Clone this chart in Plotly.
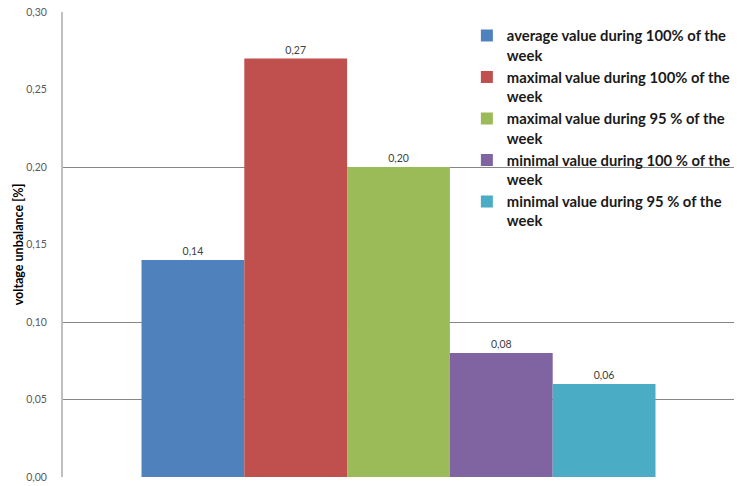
import plotly.graph_objects as go

# Voltage unbalance statistics over one week
series_names = [
    "average value during 100% of the<br>week",
    "maximal value during 100% of the<br>week",
    "maximal value during 95 % of the<br>week",
    "minimal value during 100 % of the<br>week",
    "minimal value during 95 % of the<br>week",
]
series_values = [0.14, 0.27, 0.20, 0.08, 0.06]
series_colors = ["#4f81bd", "#c0504d", "#9bbb59", "#8064a2", "#4bacc6"]
category = [""]

y_ticks = [0.00, 0.05, 0.10, 0.15, 0.20, 0.25, 0.30]
grid_ticks = [0.05, 0.10, 0.20, 0.30]

fig = go.Figure()
for i, (name, val, col) in enumerate(zip(series_names, series_values, series_colors)):
    fig.add_trace(go.Bar(
        x=category, y=[val], name=name, marker=dict(color=col, line=dict(width=0)),
        text=[val], texttemplate="%{y:.2f}", textposition="outside",
        textfont=dict(size=10.5, color="#404040", family="Lato"),
        cliponaxis=False, legendgroup=f"g{i}",
    ))

# invisible trace carrying the horizontal gridlines
fig.add_trace(go.Scatter(x=category, y=[None], yaxis="y2", showlegend=False, hoverinfo="skip"))

fig.update_layout(
    width=737, height=486,
    margin=dict(l=63, r=2, t=12, b=9),
    paper_bgcolor="white", plot_bgcolor="white",
    separators=",.",
    barmode="group", bargap=0.234, bargroupgap=0,
    font=dict(family="Lato", color="#000000"),
    showlegend=True,
    legend=dict(
        x=0.601, y=0.984, xanchor="left", yanchor="top",
        font=dict(size=14.8, color="#1a1a1a", family="Lato", weight="bold"),
        bgcolor="rgba(0,0,0,0)", valign="top", tracegroupgap=0,
        itemwidth=30,
    ),
    xaxis=dict(range=[-0.5, 0.5], showticklabels=False, showgrid=False,
               zeroline=False, showline=False, ticks=""),
    yaxis=dict(
        range=[0, 0.30], tickvals=y_ticks, tickformat=".2f",
        tickfont=dict(size=10.5, color="#595959", family="Lato"),
        showgrid=False, zeroline=False, showline=True,
        linecolor="#bfbfbf", linewidth=2, ticks="", ticklabelstandoff=12,
        automargin=False,
        title=dict(text="voltage unbalance [%]",
                   font=dict(size=12.5, color="#000000", family="Lato", weight="bold"),
                   standoff=0),
    ),
    yaxis2=dict(
        range=[0, 0.30], overlaying="y", tickvals=grid_ticks, showticklabels=False,
        showgrid=True, gridcolor="#868686", gridwidth=1, zeroline=False, showline=False,
        layer="below traces",
    ),
)

fig.write_html("out.html")
